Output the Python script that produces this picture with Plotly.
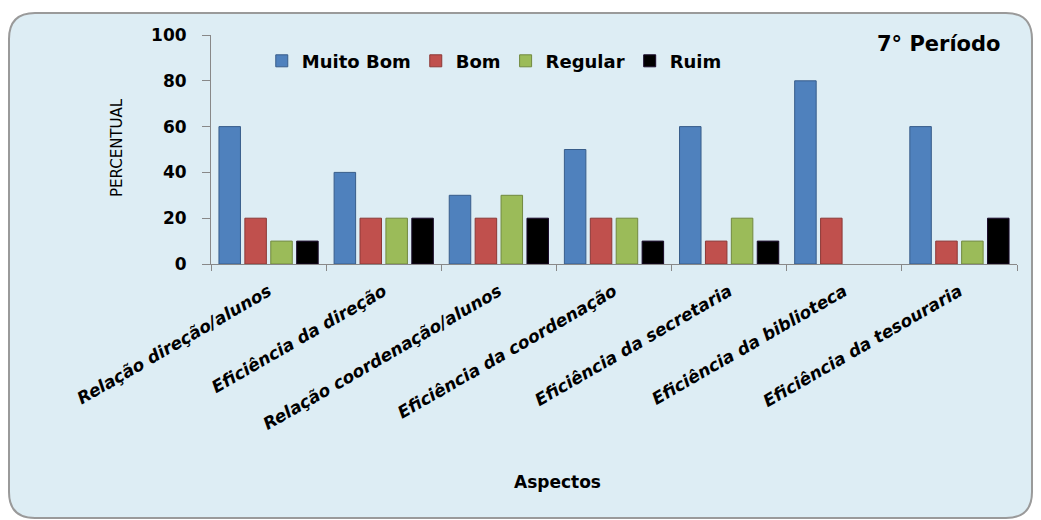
import plotly.graph_objects as go

categories = ["Relação direção/alunos", "Eficiência da direção", "Relação coordenação/alunos",
              "Eficiência da coordenação", "Eficiência da secretaria", "Eficiência da biblioteca",
              "Eficiência da tesouraria"]
muito_bom = [60, 40, 30, 50, 60, 80, 60]
bom = [20, 20, 20, 20, 10, 20, 10]
regular = [10, 20, 30, 20, 20, 0, 10]
ruim = [10, 20, 20, 10, 10, 0, 20]
y_ticks = [0, 20, 40, 60, 80, 100]

series = [
    ("Muito Bom", muito_bom, "#4F81BD", "#385D8A"),
    ("Bom", bom, "#C0504D", "#8C3836"),
    ("Regular", regular, "#9BBB59", "#71893F"),
    ("Ruim", ruim, "#000000", "#1a0a2a"),
]

FONT = "DejaVu Sans"
W, H = 1041, 520
L, R, T, B = 211, 24, 35, 256
PW, PH = W - L - R, H - T - B

def px(x, y):
    return (x - L) / PW, (H - B - y) / PH

fig = go.Figure()
for name, vals, col, edge in series:
    fig.add_trace(go.Bar(x=categories, y=vals, name=name,
                         marker=dict(color=col,
                                     line=dict(color=edge, width=[1 if v else 0 for v in vals]))))

# rounded background panel
x0, y0, x1, y1, r = 9, 13, 1032, 518, 26
def P(x, y):
    a, b = px(x, y)
    return f"{a:.5f},{b:.5f}"
path = (f"M {P(x0 + r, y0)} L {P(x1 - r, y0)} Q {P(x1, y0)} {P(x1, y0 + r)} "
        f"L {P(x1, y1 - r)} Q {P(x1, y1)} {P(x1 - r, y1)} L {P(x0 + r, y1)} "
        f"Q {P(x0, y1)} {P(x0, y1 - r)} L {P(x0, y0 + r)} Q {P(x0, y0)} {P(x0 + r, y0)} Z")

fig.update_layout(
    width=W, height=H,
    margin=dict(l=L, r=R, t=T, b=B, autoexpand=False),
    paper_bgcolor="white",
    plot_bgcolor="white",
    barmode="group",
    bargap=0.1,
    bargroupgap=0.17,
    font=dict(family=FONT, color="#000000"),
    shapes=[dict(type="path", path=path, xref="paper", yref="paper",
                 fillcolor="#DDEDF4", line=dict(color="#9A9A9A", width=2), layer="below")],
    legend=dict(orientation="h", x=0.063, y=0.886, xanchor="left", yanchor="middle",
                bgcolor="rgba(0,0,0,0)", font=dict(family=FONT, size=18, weight="bold"),
                itemwidth=30, traceorder="normal"),
    xaxis=dict(tickangle=-30, tickson="boundaries", ticks="outside", ticklen=6,
               tickcolor="#888888", showline=True, linecolor="#888888", linewidth=1,
               tickfont=dict(family=FONT, size=17, weight="bold", style="italic"),
               ticklabelstandoff=10,
               showgrid=False, automargin=False),
    yaxis=dict(range=[0, 100], tickvals=y_ticks, ticks="outside", ticklen=8,
               tickcolor="#888888", showline=True, linecolor="#888888", linewidth=1,
               tickfont=dict(family=FONT, size=17, weight="bold"),
               ticklabelstandoff=12, showgrid=False, zeroline=False, automargin=False),
    annotations=[
        dict(text="7° Período", x=px(1003, 44)[0], y=px(1003, 44)[1], xref="paper", yref="paper",
             xanchor="right", yanchor="middle", showarrow=False,
             font=dict(family=FONT, size=21, weight="bold")),
        dict(text="Aspectos", x=px(557, 482)[0], y=px(557, 482)[1], xref="paper", yref="paper",
             xanchor="center", yanchor="middle", showarrow=False,
             font=dict(family=FONT, size=17, weight="bold")),
        dict(text="PERCENTUAL", x=px(117, 148)[0], y=px(117, 148)[1], xref="paper", yref="paper",
             xanchor="center", yanchor="middle", showarrow=False, textangle=-90,
             font=dict(family=FONT, size=15)),
    ],
)

fig.write_html("out.html", config={"displayModeBar": False},
               post_script="document.body.style.margin='0';")
